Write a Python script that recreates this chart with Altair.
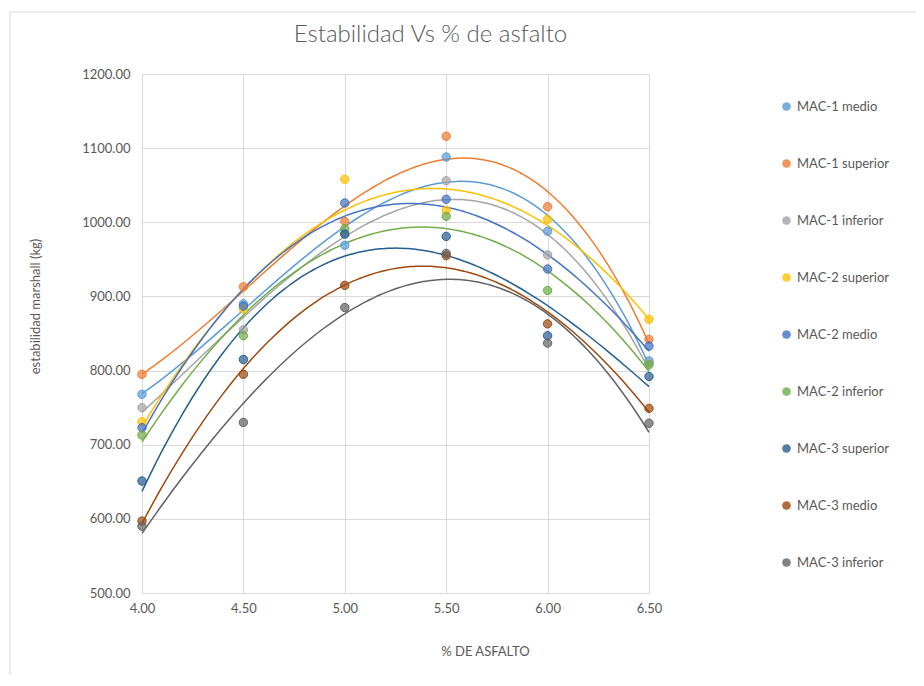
import altair as alt
import pandas as pd

asfalto = [4.0, 4.5, 5.0, 5.5, 6.0, 6.5]
series_names = ["MAC-1 medio", "MAC-1 superior", "MAC-1 inferior",
                "MAC-2 superior", "MAC-2 medio", "MAC-2 inferior",
                "MAC-3 superior", "MAC-3 medio", "MAC-3 inferior"]
mac1_medio = [768, 890, 969, 1088, 988, 813]
mac1_superior = [795, 913, 1001, 1116, 1021, 842]
mac1_inferior = [750, 855, 985, 1056, 956, 810]
mac2_superior = [731, 883, 1058, 1016, 1004, 869]
mac2_medio = [723, 887, 1026, 1031, 937, 833]
mac2_inferior = [713, 847, 991, 1008, 908, 808]
mac3_superior = [651, 815, 984, 981, 847, 792]
mac3_medio = [597, 795, 915, 955, 863, 749]
mac3_inferior = [590, 730, 885, 958, 837, 729]
colors = ["#5B9BD5", "#ED7D31", "#A5A5A5", "#FFC000", "#4472C4",
          "#70AD47", "#255E91", "#9E480E", "#636363"]

values = [mac1_medio, mac1_superior, mac1_inferior, mac2_superior, mac2_medio,
          mac2_inferior, mac3_superior, mac3_medio, mac3_inferior]
rows = []
for name, vals in zip(series_names, values):
    for xv, yv in zip(asfalto, vals):
        rows.append({"serie": name, "asfalto": xv, "estabilidad": yv})
df = pd.DataFrame(rows)

FONT = "Lato"
GREY = "#595959"

legend = alt.Legend(title=None, orient="none", legendX=638, legendY=26,
                    rowPadding=43, labelFontSize=13, labelColor=GREY,
                    labelFont=FONT, symbolType="circle", symbolSize=60,
                    symbolStrokeWidth=1, labelOffset=4, symbolOpacity=0.8)
scale = alt.Scale(domain=series_names, range=colors)

xenc = alt.X("asfalto:Q", scale=alt.Scale(domain=[4, 6.5], nice=False),
             axis=alt.Axis(values=asfalto, format=".2f", title="% DE ASFALTO",
                           titleX=343, titleY=52, titleFontWeight="normal",
                           titleFontSize=13, titleColor=GREY, titleFont=FONT,
                           labelFont=FONT, labelFontSize=13, labelColor=GREY,
                           labelPadding=9, ticks=False, domain=False,
                           labelFlush=False, gridColor="#d9d9d9"))
yenc = alt.Y("estabilidad:Q", scale=alt.Scale(domain=[500, 1200], nice=False),
             axis=alt.Axis(values=list(range(500, 1201, 100)), format=".2f",
                           title="estabilidad marshall (kg)", titleX=-107, titleY=232,
                           titleBaseline="middle", titleFontWeight="normal",
                           titleFontSize=13, titleColor=GREY, titleFont=FONT,
                           labelFont=FONT, labelFontSize=13, labelColor=GREY,
                           labelPadding=12, ticks=False, domain=False,
                           labelFlush=False, gridColor="#d9d9d9"))

base = alt.Chart(df)

frame = alt.Chart(pd.DataFrame({"k": [0]})).mark_rect(
    fill="transparent", stroke="#d9d9d9", strokeWidth=1
).encode(x=alt.value(-132), x2=alt.value(800), y=alt.value(-62), y2=alt.value(640))

lines = base.transform_regression(
    "asfalto", "estabilidad", groupby=["serie"], method="poly", order=3,
    extent=[4, 6.5]
).mark_line(strokeWidth=1.5, interpolate="monotone").encode(
    x=xenc, y=yenc, color=alt.Color("serie:N", scale=scale, legend=legend)
)

points = base.mark_point(filled=True, size=70, fillOpacity=0.7, strokeWidth=1,
                         strokeOpacity=1).encode(
    x=xenc, y=yenc,
    color=alt.Color("serie:N", scale=scale, legend=legend),
    stroke=alt.Stroke("serie:N", scale=scale, legend=legend),
)

chart = alt.layer(frame, lines, points).properties(
    width=507, height=519,
    title=alt.TitleParams("Estabilidad  Vs % de asfalto", fontSize=24, color=GREY,
                          font=FONT, fontWeight=300, anchor="middle",
                          dx=35, offset=-35),
    autosize=alt.AutoSizeParams(type="none"),
    padding={"left": 134, "top": 66, "right": 267, "bottom": 82},
).configure_view(strokeWidth=0)

chart.save("out.html", embed_options={"renderer": "svg", "actions": False})
